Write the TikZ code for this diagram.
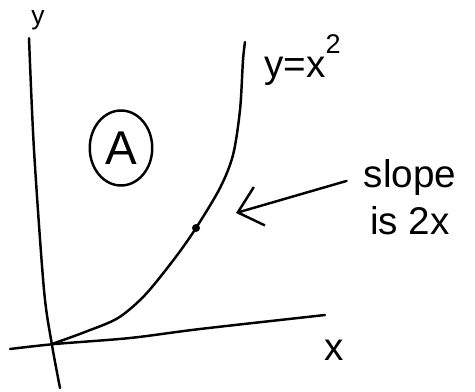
\documentclass[tikz,border=0pt]{standalone}
\usepackage{fontspec}
\setmainfont{Liberation Sans}
\usetikzlibrary{arrows.meta,shapes.geometric}
\begin{document}
\begin{tikzpicture}[x=.02cm,y=-.02cm,line width=1.4pt,line cap=round,font=\fontsize{22}{24}\selectfont]
  \useasboundingbox (0,0) rectangle (475,391);
  % axes
  \draw plot[smooth] coordinates {(29,38) (34,150) (44,290) (52,345) (60,388)};
  \draw plot[smooth] coordinates {(10,349) (55,344) (130,338) (200,329) (325,315)};
  \node (ylab) at (38,20) {\fontsize{15}{16}\selectfont y};
  \node (xlab) at (334,350) {x};
  % curve
  \draw plot[smooth] coordinates {(52,344) (85,332) (118,318) (145,295) (175,258) (196,228)
    (220,188) (233,155) (240,110) (243,60) (245,42)};
  \node (curvelab) at (303,60) {y=x\raisebox{.5ex}{\textsuperscript{2}}};
  \fill (196,228) circle (4);
  \coordinate (pt) at (236,213);
  % region
  \node[draw,ellipse,minimum width=1.25cm,minimum height=1.5cm,inner sep=0pt,
    font=\fontsize{27}{28}\selectfont] (regA) at (121,148) {A};
  % slope
  \node (slope) at (410,178) {slope};
  \node[below=-2pt] (is2x) at (slope.south) {is 2x};
  \draw[-{Straight Barb[length=.45cm,width=.8cm]},shorten <=6pt] (slope.west) -- (pt);
\end{tikzpicture}
\end{document}
